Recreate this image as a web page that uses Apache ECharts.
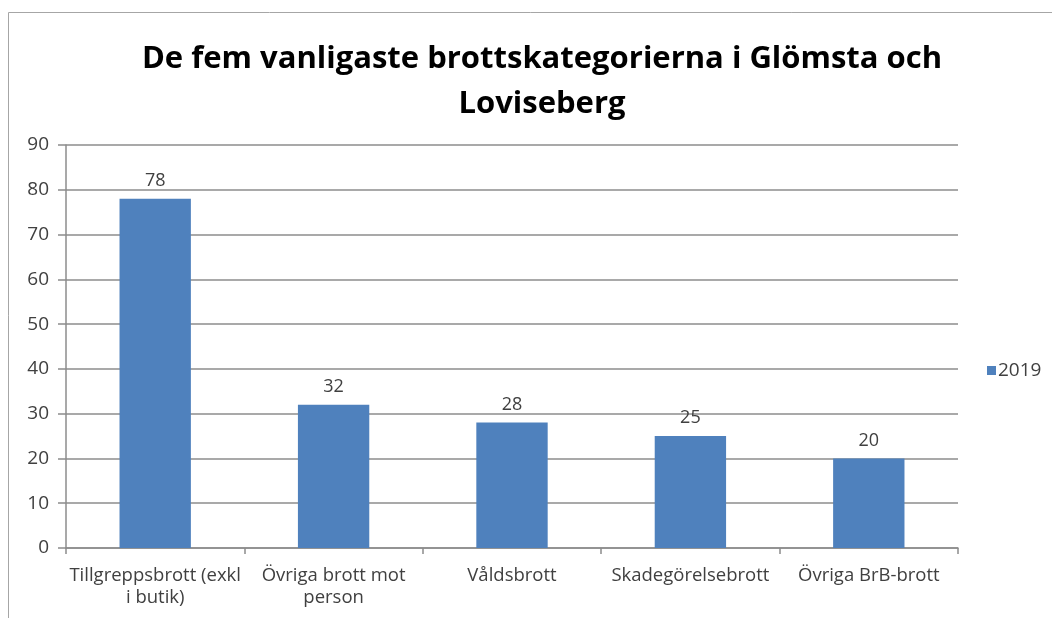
<!DOCTYPE html>
<html>
<head>
<meta charset="utf-8">
<script src="https://cdn.jsdelivr.net/npm/echarts@6/dist/echarts.min.js"></script>
<style>
  html, body { margin: 0; padding: 0; background: #fff; }
  #chart { width: 1052px; height: 618px; }
</style>
</head>
<body>
<div id="chart"></div>
<script>
  var categories = ['Tillgreppsbrott (exkl\ni butik)', 'Övriga brott mot\nperson', 'Våldsbrott', 'Skadegörelsebrott', 'Övriga BrB-brott'];
  var values2019 = [78, 32, 28, 25, 20];
  var seriesName = '2019';

  var chart = echarts.init(document.getElementById('chart'));
  var textColor = '#404040';
  var lineColor = '#8c8c8c';

  chart.setOption({
    animation: false,
    textStyle: { fontFamily: 'Open Sans' },
    title: {
      text: 'De fem vanligaste brottskategorierna i Glömsta och\nLoviseberg',
      left: 537,
      textAlign: 'center',
      top: 32,
      textStyle: {
        fontFamily: 'Open Sans',
        fontWeight: 'bold',
        fontSize: 31,
        lineHeight: 45,
        color: '#000'
      }
    },
    graphic: [{
      type: 'rect',
      shape: { x: 8.5, y: 12.5, width: 1060, height: 620 },
      style: { fill: 'none', stroke: '#a6a6a6', lineWidth: 1 },
      silent: true
    }],
    legend: {
      orient: 'vertical',
      left: 987,
      top: 361,
      itemWidth: 9,
      itemHeight: 9,
      itemGap: 5,
      icon: 'rect',
      padding: 0,
      textStyle: { fontSize: 19, color: textColor, padding: [0, 0, 0, -3] },
      data: [seriesName]
    },
    grid: { left: 66, right: 94, top: 145, bottom: 70 },
    xAxis: {
      type: 'category',
      data: categories,
      axisLine: { lineStyle: { color: lineColor, width: 1.5 } },
      axisTick: { show: true, length: 6, lineStyle: { color: lineColor, width: 1.5 } },
      axisLabel: { fontSize: 18.5, color: textColor, margin: 17, lineHeight: 22, interval: 0 }
    },
    yAxis: {
      type: 'value',
      min: 0,
      max: 90,
      interval: 10,
      axisLine: { show: true, lineStyle: { color: lineColor, width: 1.5 } },
      axisTick: { show: true, length: 8, lineStyle: { color: lineColor, width: 1.5 } },
      axisLabel: { fontSize: 19, color: textColor, margin: 17 },
      splitLine: { lineStyle: { color: lineColor, width: 1.5 } }
    },
    series: [{
      name: seriesName,
      type: 'bar',
      barWidth: '40%',
      itemStyle: { color: '#4f81bd' },
      label: {
        show: true,
        position: 'top',
        distance: 9,
        fontSize: 18,
        color: textColor
      },
      data: values2019
    }]
  });
</script>
</body>
</html>
